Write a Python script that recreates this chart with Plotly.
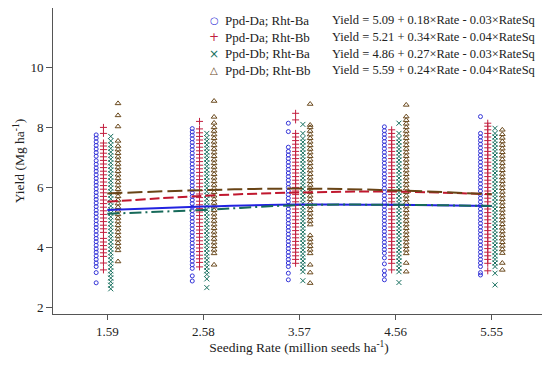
import plotly.graph_objects as go

# ---------------- data ----------------
rates = [1.59, 2.58, 3.57, 4.56, 5.55]
rate_labels = ["1.59", "2.58", "3.57", "4.56", "5.55"]

series_names = ["Ppd-Da; Rht-Ba", "Ppd-Da; Rht-Bb", "Ppd-Db; Rht-Ba", "Ppd-Db; Rht-Bb"]
equations = [
    "Yield = 5.09 + 0.18×Rate - 0.03×RateSq",
    "Yield = 5.21 + 0.34×Rate - 0.04×RateSq",
    "Yield = 4.86 + 0.27×Rate - 0.03×RateSq",
    "Yield = 5.59 + 0.24×Rate - 0.04×RateSq",
]
legend_glyphs = ["○", "+", "×", "△"]

# observed yields (Mg/ha) per seeding rate, one list per rate
da_ba = [
    [2.82, 3.16, 3.36, 3.48, 3.6, 3.72, 3.84, 3.95, 4.07, 4.19, 4.3, 4.42, 4.54, 4.66, 4.77, 4.89, 5.01, 5.13, 5.24, 5.36, 5.48, 5.6, 5.71, 5.83, 5.95, 6.07, 6.18, 6.3, 6.42, 6.54, 6.65, 6.77, 6.89, 7.04, 7.16, 7.28, 7.4, 7.52, 7.64, 7.75],
    [2.88, 3.05, 3.3, 3.42, 3.54, 3.66, 3.78, 3.9, 4.02, 4.14, 4.26, 4.38, 4.5, 4.62, 4.74, 4.86, 4.98, 5.1, 5.22, 5.34, 5.46, 5.58, 5.7, 5.82, 5.94, 6.06, 6.18, 6.3, 6.42, 6.54, 6.66, 6.78, 6.9, 7.02, 7.14, 7.26, 7.38, 7.5, 7.62, 7.74, 7.85, 7.96],
    [2.92, 3.14, 3.36, 3.48, 3.6, 3.72, 3.84, 3.96, 4.08, 4.2, 4.32, 4.44, 4.56, 4.68, 4.8, 4.92, 5.04, 5.16, 5.28, 5.4, 5.52, 5.64, 5.76, 5.88, 6.0, 6.12, 6.24, 6.36, 6.48, 6.6, 6.72, 6.84, 6.96, 7.08, 7.2, 7.34, 7.86, 8.14],
    [2.92, 3.08, 3.22, 3.45, 3.65, 3.81, 3.93, 4.05, 4.17, 4.29, 4.41, 4.53, 4.65, 4.77, 4.89, 5.01, 5.13, 5.25, 5.37, 5.49, 5.61, 5.73, 5.85, 5.97, 6.09, 6.21, 6.33, 6.45, 6.57, 6.69, 6.81, 6.93, 7.05, 7.17, 7.29, 7.41, 7.53, 7.65, 7.77, 7.89, 8.02],
    [3.08, 3.16, 3.36, 3.48, 3.6, 3.72, 3.84, 3.96, 4.08, 4.2, 4.32, 4.44, 4.56, 4.68, 4.8, 4.92, 5.04, 5.16, 5.28, 5.4, 5.52, 5.64, 5.76, 5.88, 6.0, 6.12, 6.24, 6.36, 6.48, 6.6, 6.72, 6.84, 6.96, 7.08, 7.2, 7.32, 7.44, 7.56, 7.68, 7.8, 8.36],
]
da_bb = [
    [3.25, 3.48, 3.7, 3.82, 3.94, 4.06, 4.18, 4.3, 4.5, 4.62, 4.74, 4.86, 4.98, 5.1, 5.22, 5.34, 5.46, 5.58, 5.7, 5.82, 5.94, 6.06, 6.18, 6.3, 6.42, 6.54, 6.66, 6.78, 6.9, 7.02, 7.14, 7.26, 7.38, 7.48, 7.8, 8.0],
    [3.35, 3.5, 3.62, 3.74, 3.86, 3.98, 4.1, 4.22, 4.34, 4.46, 4.58, 4.7, 4.82, 4.94, 5.06, 5.18, 5.3, 5.42, 5.54, 5.66, 5.78, 5.9, 6.02, 6.14, 6.26, 6.38, 6.5, 6.62, 6.74, 6.86, 6.98, 7.1, 7.22, 7.34, 7.46, 7.58, 7.7, 7.82, 7.95, 8.2],
    [3.47, 3.6, 3.72, 3.84, 3.96, 4.08, 4.2, 4.32, 4.44, 4.56, 4.68, 4.8, 4.92, 5.04, 5.16, 5.28, 5.4, 5.52, 5.64, 5.76, 5.88, 6.0, 6.12, 6.24, 6.36, 6.48, 6.6, 6.72, 6.84, 6.96, 7.08, 7.2, 7.32, 7.44, 7.56, 7.68, 7.8, 8.25, 8.47],
    [3.25, 3.47, 3.6, 3.72, 3.84, 3.96, 4.08, 4.2, 4.32, 4.44, 4.56, 4.68, 4.8, 4.92, 5.04, 5.16, 5.28, 5.4, 5.52, 5.64, 5.76, 5.88, 6.0, 6.12, 6.24, 6.36, 6.48, 6.6, 6.72, 6.84, 6.96, 7.08, 7.2, 7.32, 7.44, 7.56, 7.68, 7.8, 7.92],
    [3.22, 3.47, 3.6, 3.72, 3.84, 3.96, 4.08, 4.2, 4.32, 4.44, 4.56, 4.68, 4.8, 4.92, 5.04, 5.16, 5.28, 5.4, 5.52, 5.64, 5.76, 5.88, 6.0, 6.12, 6.24, 6.36, 6.48, 6.6, 6.72, 6.84, 6.96, 7.08, 7.2, 7.32, 7.44, 7.56, 7.68, 7.8, 7.92, 8.04, 8.14],
]
db_ba = [
    [2.62, 2.74, 2.86, 2.98, 3.1, 3.22, 3.34, 3.46, 3.58, 3.7, 3.82, 3.94, 4.06, 4.18, 4.3, 4.42, 4.54, 4.66, 4.78, 4.9, 5.02, 5.14, 5.26, 5.38, 5.5, 5.62, 5.74, 5.86, 5.98, 6.1, 6.22, 6.34, 6.46, 6.58, 6.7, 6.82, 6.94, 7.06, 7.18, 7.3, 7.42, 7.55, 7.7],
    [2.66, 2.95, 3.1, 3.22, 3.34, 3.46, 3.58, 3.7, 3.82, 3.94, 4.06, 4.18, 4.3, 4.42, 4.54, 4.66, 4.78, 4.9, 5.02, 5.14, 5.26, 5.38, 5.5, 5.62, 5.74, 5.86, 5.98, 6.1, 6.22, 6.34, 6.46, 6.58, 6.7, 6.82, 6.94, 7.06, 7.18, 7.3, 7.42, 7.54, 7.66, 7.8],
    [2.89, 3.19, 3.31, 3.43, 3.55, 3.67, 3.79, 3.91, 4.03, 4.15, 4.27, 4.39, 4.51, 4.63, 4.75, 4.87, 4.99, 5.11, 5.23, 5.35, 5.47, 5.59, 5.71, 5.83, 5.95, 6.07, 6.19, 6.31, 6.43, 6.55, 6.67, 6.79, 6.91, 7.03, 7.15, 7.27, 7.39, 7.51, 7.63, 7.8, 8.1],
    [2.83, 3.19, 3.31, 3.43, 3.55, 3.67, 3.79, 3.91, 4.03, 4.15, 4.27, 4.39, 4.51, 4.63, 4.75, 4.87, 4.99, 5.11, 5.23, 5.35, 5.47, 5.59, 5.71, 5.83, 5.95, 6.07, 6.19, 6.31, 6.43, 6.55, 6.67, 6.79, 6.91, 7.03, 7.15, 7.27, 7.39, 7.51, 7.63, 7.8, 8.14],
    [2.75, 3.14, 3.36, 3.48, 3.6, 3.72, 3.84, 3.96, 4.08, 4.2, 4.32, 4.44, 4.56, 4.68, 4.8, 4.92, 5.04, 5.16, 5.28, 5.4, 5.52, 5.64, 5.76, 5.88, 6.0, 6.12, 6.24, 6.36, 6.48, 6.6, 6.72, 6.84, 6.96, 7.08, 7.2, 7.32, 7.44, 7.56, 7.68, 7.8, 7.97],
]
db_bb = [
    [3.53, 3.9, 4.02, 4.14, 4.26, 4.38, 4.5, 4.62, 4.74, 4.86, 4.98, 5.1, 5.22, 5.34, 5.46, 5.58, 5.7, 5.82, 5.94, 6.06, 6.18, 6.3, 6.42, 6.54, 6.66, 6.78, 6.9, 7.02, 7.14, 7.26, 7.38, 7.55, 8.03, 8.4, 8.8],
    [3.42, 3.8, 3.92, 4.04, 4.16, 4.28, 4.4, 4.52, 4.64, 4.76, 4.88, 5.0, 5.12, 5.24, 5.36, 5.48, 5.6, 5.72, 5.84, 5.96, 6.08, 6.2, 6.32, 6.44, 6.56, 6.68, 6.8, 6.92, 7.04, 7.16, 7.28, 7.4, 7.52, 7.64, 7.76, 7.88, 8.0, 8.15, 8.35, 8.88],
    [2.81, 3.16, 3.42, 3.8, 3.92, 4.04, 4.16, 4.28, 4.4, 4.76, 4.88, 5.0, 5.12, 5.24, 5.36, 5.48, 5.6, 5.72, 5.84, 5.96, 6.08, 6.2, 6.32, 6.44, 6.56, 6.68, 6.8, 6.92, 7.04, 7.16, 7.28, 7.4, 7.52, 7.64, 7.76, 7.88, 8.0, 8.08, 8.78],
    [3.19, 3.48, 3.8, 3.92, 4.04, 4.16, 4.28, 4.4, 4.52, 4.64, 4.76, 4.88, 5.0, 5.12, 5.24, 5.36, 5.48, 5.6, 5.72, 5.84, 5.96, 6.08, 6.2, 6.32, 6.44, 6.56, 6.68, 6.8, 6.92, 7.04, 7.16, 7.28, 7.4, 7.52, 7.64, 7.76, 7.88, 8.0, 8.12, 8.24, 8.36, 8.75],
    [3.25, 3.48, 3.81, 3.93, 4.05, 4.17, 4.29, 4.41, 4.53, 4.65, 4.77, 4.89, 5.01, 5.13, 5.25, 5.37, 5.49, 5.61, 5.73, 5.85, 5.97, 6.09, 6.21, 6.33, 6.45, 6.57, 6.69, 6.81, 6.93, 7.05, 7.17, 7.29, 7.41, 7.53, 7.65, 7.77, 7.92],
]

# fitted curves read at each seeding rate
fit_da_ba = [5.25, 5.36, 5.43, 5.42, 5.38]
fit_da_bb = [5.52, 5.72, 5.83, 5.86, 5.77]
fit_db_ba = [5.12, 5.25, 5.41, 5.42, 5.38]
fit_db_bb = [5.80, 5.91, 5.96, 5.90, 5.77]

# ---------------- styling ----------------
FONT = "Liberation Serif"
colors = ["#3535d8", "#c21f3f", "#18705f", "#6b4a1e"]
line_colors = ["#2222e0", "#c0182f", "#176a5a", "#694416"]
symbols = ["circle-open", "cross-thin-open", "x-thin-open", "triangle-up-open"]
sizes = [4, 5, 5, 5]
glyph_sizes = [10, 12, 12, 10]
dashes = ["solid", "10px,4px", "12px,4px,2px,4px", "15px,5px"]
offsets = [-0.115, -0.04, 0.035, 0.11]

all_obs = [da_ba, da_bb, db_ba, db_bb]
all_fit = [fit_da_ba, fit_da_bb, fit_db_ba, fit_db_bb]

# the page adds an 8px body margin, so the figure is 8px smaller than the window
PAGE = 8
W, H = 550 - PAGE, 365 - PAGE
ML, MR, MT, MB = 45, 5, 0, 51
PW, PH = W - ML - MR, H - MT - MB


def px_x(px):  # window pixel -> paper x
    return (px - PAGE - ML) / PW


def px_y(py):  # window pixel -> paper y
    return (H - MB - (py - PAGE)) / PH


fig = go.Figure()
for i in range(4):
    xs, ys = [], []
    for r, vals in zip(rates, all_obs[i]):
        xs += [r + offsets[i]] * len(vals)
        ys += vals
    fig.add_trace(go.Scatter(
        x=xs, y=ys, mode="markers", name=series_names[i], showlegend=False,
        marker=dict(symbol=symbols[i], size=sizes[i], color=colors[i],
                    line=dict(width=1, color=colors[i])),
    ))
for i in range(4):
    fig.add_trace(go.Scatter(
        x=rates, y=all_fit[i], mode="lines", showlegend=False,
        line=dict(color=line_colors[i], width=2, dash=dashes[i], shape="spline"),
    ))

# legend drawn as text rows
for k in range(4):
    row_y = px_y(20.5 + 16.6 * k)
    fig.add_annotation(x=px_x(214), y=row_y, xref="paper", yref="paper",
                       text=legend_glyphs[k], showarrow=False, xanchor="center", yanchor="middle",
                       font=dict(family="DejaVu Sans", size=glyph_sizes[k], color=colors[k]))
    fig.add_annotation(x=px_x(223), y=row_y, xref="paper", yref="paper",
                       text=series_names[k], showarrow=False, xanchor="left", yanchor="middle",
                       font=dict(family=FONT, size=13, color="#222"))
    fig.add_annotation(x=px_x(330), y=row_y, xref="paper", yref="paper",
                       text=equations[k], showarrow=False, xanchor="left", yanchor="middle",
                       font=dict(family=FONT, size=12.5, color="#222"))

axis_common = dict(
    showline=True, linecolor="#555", linewidth=1, mirror=False, automargin=False,
    ticks="outside", tickcolor="#555", tickwidth=1, showgrid=False, zeroline=False,
    tickfont=dict(family=FONT, size=13, color="#222"),
)
fig.update_layout(
    width=W, height=H,
    margin=dict(l=ML, r=MR, t=MT, b=MB, autoexpand=False),
    paper_bgcolor="white", plot_bgcolor="white",
    showlegend=False,
    xaxis=dict(range=[1.03, 6.1], tickvals=rates, ticktext=rate_labels, ticklen=5,
               title=dict(text="Seeding Rate (million seeds ha<sup>-1</sup>)",
                          font=dict(family=FONT, size=13.5, color="#222"), standoff=0),
               **axis_common),
    yaxis=dict(range=[1.78, 11.98], tickvals=[2, 4, 6, 8, 10], ticklen=6,
               title=dict(text="Yield (Mg ha<sup>-1</sup>)",
                          font=dict(family=FONT, size=13.5, color="#222"), standoff=2),
               **axis_common),
)
fig.write_html("out.html")
